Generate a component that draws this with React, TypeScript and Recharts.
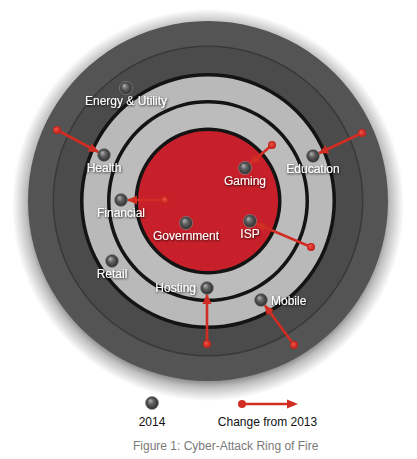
import React from 'react';
import { PieChart, Pie, ScatterChart, Scatter, XAxis, YAxis } from 'recharts';

// sectors on the target, positions (centre of target = 0,0)
const sectors = ['Energy & Utility', 'Health', 'Education', 'Gaming', 'Financial', 'Government', 'ISP', 'Retail', 'Hosting', 'Mobile'];
const x2014 = [-82, -104, 105, 37, -87, -22, 42, -96, -1, 53];
const y2014 = [113, 46, 45, 33, 1, -22, -20, -60, -87, -99];
// where each sector sat in 2013 (null = no change shown)
const x2013 = [null, -151, 154, 64, -43, null, 103, null, -1, 86];
const y2013 = [null, 71, 68, 56, 1, null, -46, null, -143, -144];

const legendLabels = ['2014', 'Change from 2013'];
const caption = 'Figure 1: Cyber-Attack Ring of Fire';

const labelSide: Record<string, string> = { Hosting: 'left', Mobile: 'right' };

const W = 417;
const H = 459;
const CX = 208;
const CY = 201;
const FONT = "'Liberation Sans', Arial, Helvetica, sans-serif";

const disc = [{ value: 1 }];

const points2014 = sectors.map((name, i) => ({ name, x: x2014[i], y: y2014[i] }));
const changes = sectors
  .map((name, i) =>
    x2013[i] == null
      ? null
      : {
          name,
          data: [
            { name, year: 2013, x: x2013[i], y: y2013[i] },
            { name, year: 2014, x: x2014[i], y: y2014[i] },
          ],
        }
  )
  .filter(Boolean) as { name: string; data: any[] }[];

const Ball = (props: any) => {
  const { cx, cy, payload } = props;
  const side = labelSide[payload.name];
  let tx = cx;
  let ty = cy + 17;
  let anchor = 'middle';
  if (side === 'left') {
    tx = cx - 11;
    ty = cy + 4;
    anchor = 'end';
  } else if (side === 'right') {
    tx = cx + 10;
    ty = cy + 5;
    anchor = 'start';
  }
  return (
    <g>
      <circle cx={cx} cy={cy} r={6.5} fill="url(#ballGrad)" stroke="#8c8c8c" strokeWidth={0.7} />
      <text x={tx} y={ty} textAnchor={anchor} fill="#fff" fontSize={12} fontFamily={FONT} filter="url(#txtShadow)">
        {payload.name}
      </text>
    </g>
  );
};

const RedDot = (props: any) => {
  const { cx, cy, payload } = props;
  if (payload.year !== 2013) return <g />;
  return <circle cx={cx} cy={cy} r={4} fill="url(#redGrad)" />;
};

const ring = (outer: number, fill: string, key: string) => (
  <Pie
    key={key}
    data={disc}
    dataKey="value"
    cx={CX}
    cy={CY}
    innerRadius={0}
    outerRadius={outer}
    startAngle={90}
    endAngle={-270}
    stroke="none"
    fill={fill}
    isAnimationActive={false}
  />
);

export default function App() {
  return (
    <div style={{ position: 'absolute', left: 0, top: 0, width: W, height: H, background: '#fff' }}>
      <div style={{ position: 'absolute', left: 0, top: 0 }}>
        <PieChart width={W} height={H} margin={{ top: 0, right: 0, bottom: 0, left: 0 }}>
          <defs>
            <radialGradient id="shadowGrad" gradientUnits="userSpaceOnUse" cx={CX} cy={CY + 4} r={196}>
              <stop offset="0.88" stopColor="#000" stopOpacity={0.55} />
              <stop offset="0.93" stopColor="#000" stopOpacity={0.25} />
              <stop offset="1" stopColor="#000" stopOpacity={0} />
            </radialGradient>
          </defs>
          <Pie
            data={disc}
            dataKey="value"
            cx={CX}
            cy={CY + 4}
            outerRadius={196}
            startAngle={90}
            endAngle={-270}
            stroke="none"
            fill="url(#shadowGrad)"
            isAnimationActive={false}
          />
          {ring(180, '#545454', 'outer')}
          {ring(155.5, '#393939', 'edge')}
          {ring(154, '#4b4b4b', 'dark')}
          {ring(128, '#141414', 'b1')}
          {ring(124.5, '#b9b9b9', 'g1')}
          {ring(101, '#141414', 'b2')}
          {ring(97.5, '#bcbcbc', 'g2')}
          {ring(73.5, '#141414', 'b3')}
          {ring(70, '#c8202a', 'red')}
        </PieChart>
      </div>
      <div style={{ position: 'absolute', left: 0, top: 0 }}>
        <ScatterChart width={W} height={H} margin={{ top: 0, right: 0, bottom: 0, left: 0 }}>
          <defs>
            <radialGradient id="ballGrad" cx="50%" cy="50%" r="50%" fx="35%" fy="30%">
              <stop offset="0%" stopColor="#b5b5b5" />
              <stop offset="45%" stopColor="#626262" />
              <stop offset="100%" stopColor="#2a2a2a" />
            </radialGradient>
            <radialGradient id="redGrad" cx="50%" cy="50%" r="50%" fx="35%" fy="35%">
              <stop offset="0%" stopColor="#f0574c" />
              <stop offset="100%" stopColor="#c01d15" />
            </radialGradient>
            <marker id="arrowHead" viewBox="0 0 20 10" refX={16} refY={5} markerWidth={20} markerHeight={10} markerUnits="userSpaceOnUse" orient="auto">
              <path d="M0,0.5 L10,5 L0,9.5 z" fill="#d22d23" />
            </marker>
            <filter id="txtShadow" x="-20%" y="-50%" width="140%" height="200%">
              <feDropShadow dx="0.6" dy="1" stdDeviation="1" floodColor="#000" floodOpacity="0.85" />
            </filter>
          </defs>
          <XAxis type="number" dataKey="x" domain={[-CX, W - CX]} allowDataOverflow hide />
          <YAxis type="number" dataKey="y" domain={[CY - H, CY]} allowDataOverflow hide />
          {changes.map((c) => (
            <Scatter
              key={c.name}
              data={c.data}
              line={{ stroke: '#d22d23', strokeWidth: 2.6, markerEnd: 'url(#arrowHead)' }}
              shape={RedDot}
              isAnimationActive={false}
            />
          ))}
          <Scatter data={points2014} shape={Ball} isAnimationActive={false} />
        </ScatterChart>
      </div>
      <svg style={{ position: 'absolute', left: 0, top: 385 }} width={W} height={74}>
        <defs>
          <radialGradient id="ballGradL" cx="50%" cy="50%" r="50%" fx="35%" fy="30%">
            <stop offset="0%" stopColor="#b5b5b5" />
            <stop offset="45%" stopColor="#626262" />
            <stop offset="100%" stopColor="#2a2a2a" />
          </radialGradient>
        </defs>
        <circle cx={152} cy={18} r={6.5} fill="url(#ballGradL)" stroke="#8c8c8c" strokeWidth={0.7} />
        <line x1={242} y1={19} x2={289} y2={19} stroke="#d22d23" strokeWidth={2.6} />
        <path d="M287,14.5 L298,19 L287,23.5 z" fill="#d22d23" />
        <circle cx={242} cy={19} r={4} fill="#d22d23" />
        <text x={152} y={41} textAnchor="middle" fontSize={12} fontFamily={FONT} fill="#111">
          {legendLabels[0]}
        </text>
        <text x={267.5} y={41} textAnchor="middle" fontSize={12} fontFamily={FONT} fill="#111">
          {legendLabels[1]}
        </text>
        <text x={133} y={65} fontSize={12} fontFamily={FONT} fill="#7a7a7a">
          {caption}
        </text>
      </svg>
    </div>
  );
}
